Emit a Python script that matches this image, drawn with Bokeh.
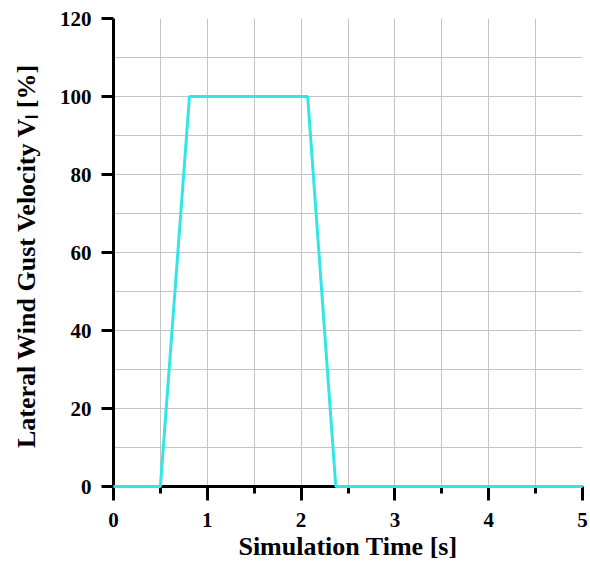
from bokeh.plotting import figure
from bokeh.models import FixedTicker, Range1d
from bokeh.embed import file_html
from bokeh.resources import INLINE

# Data
time_s = [0.0, 0.5, 0.81, 2.07, 2.37, 5.0]
gust_pct = [0, 0, 100, 100, 0, 0]

x_major = [0, 1, 2, 3, 4, 5]
x_minor = [0.5, 1.5, 2.5, 3.5, 4.5]
y_major = [0, 20, 40, 60, 80, 100, 120]
y_minor = [10, 30, 50, 70, 90, 110]

FONT = "Liberation Serif"

p = figure(width=590, height=563, output_backend="svg", toolbar_location=None,
           x_range=Range1d(0, 5), y_range=Range1d(0, 120),
           min_border_left=113, min_border_right=8, min_border_top=18, min_border_bottom=76)
p.outline_line_color = None
p.background_fill_color = "white"
p.border_fill_color = "white"

r = p.line(time_s, gust_pct, line_color="#33E6E6", line_width=3)
r.level = "overlay"

p.xaxis.ticker = FixedTicker(ticks=x_major, minor_ticks=x_minor)
p.yaxis.ticker = FixedTicker(ticks=y_major, minor_ticks=y_minor)

for ax in (p.xaxis, p.yaxis):
    ax.axis_line_color = "black"
    ax.axis_line_width = 3
    ax.major_tick_line_color = "black"
    ax.major_tick_line_width = 3
    ax.minor_tick_line_color = "black"
    ax.minor_tick_line_width = 3
    ax.major_tick_in = 0
    ax.minor_tick_in = 0
    ax.major_label_text_font = FONT
    ax.major_label_text_font_style = "bold"
    ax.major_label_text_font_size = "21px"
    ax.major_label_text_color = "black"
    ax.axis_label_text_font = FONT
    ax.axis_label_text_font_style = "bold"
    ax.axis_label_text_font_size = "26px"
    ax.axis_label_text_color = "black"

p.xaxis.major_tick_out = 14
p.xaxis.minor_tick_out = 7
p.xaxis.major_label_standoff = 12
p.xaxis.axis_label_standoff = 2
p.xaxis.axis_label = "Simulation Time [s]"

p.yaxis.major_tick_out = 12
p.yaxis.minor_tick_out = 0
p.yaxis.minor_tick_line_color = None
p.yaxis.major_label_standoff = 10
p.yaxis.axis_label_standoff = 16
p.yaxis.axis_label = "Lateral Wind Gust Velocity V\u2097  [%]"

for g in (p.xgrid, p.ygrid):
    g.grid_line_color = "#c4c4c4"
    g.grid_line_width = 1
    g.minor_grid_line_color = "#c4c4c4"
    g.minor_grid_line_width = 1

open("out.html", "w").write(file_html(p, INLINE))
